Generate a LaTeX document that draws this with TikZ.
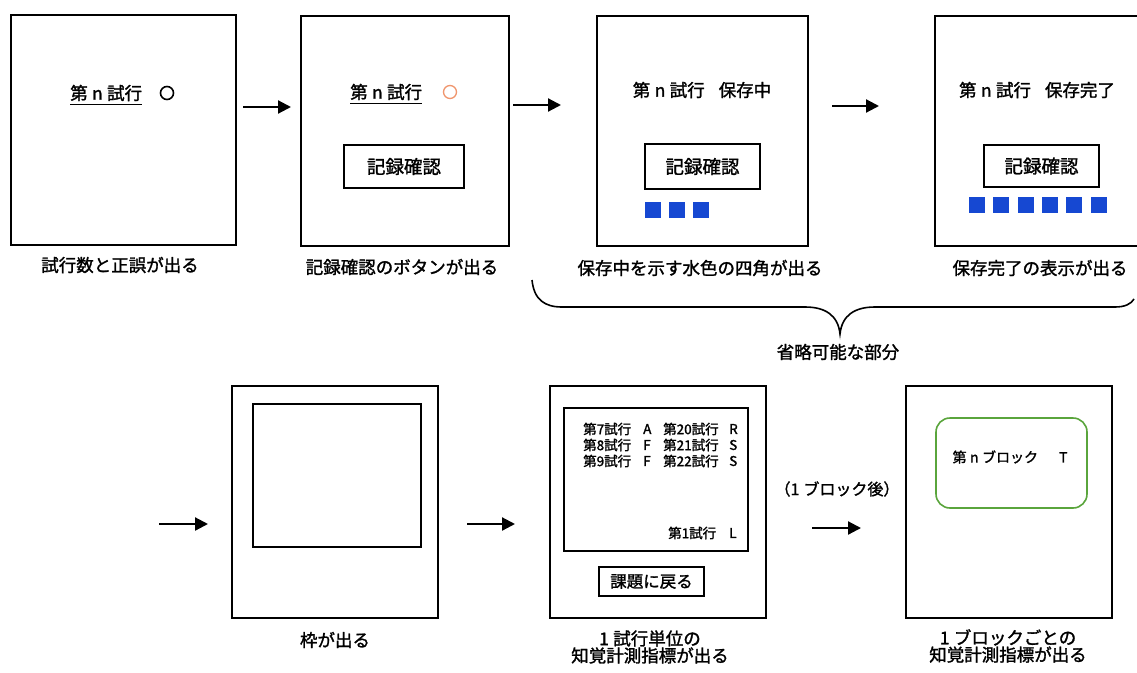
\documentclass[tikz,border=0pt]{standalone}
\usepackage{fontspec}
\setmainfont{Noto Sans CJK JP}[FakeBold=1.5]
\usetikzlibrary{arrows.meta}
\definecolor{sqblue}{RGB}{22,72,210}
\definecolor{circorange}{RGB}{240,150,110}
\definecolor{framegreen}{RGB}{90,165,60}
\tikzset{
  screen/.style={draw=black, line width=1.6pt, inner sep=0pt, fill=white},
  btn/.style={draw=black, line width=1.5pt, inner sep=0pt},
  arr/.style={line width=2.2pt, -{Triangle[length=13pt,width=13pt]}},
  captxt/.style={inner sep=0pt, font=\fontsize{17.5}{17}\selectfont},
  scrtxt/.style={inner sep=0pt, font=\fontsize{17.5}{20}\selectfont},
  smalltxt/.style={inner sep=0pt, font=\fontsize{13.5}{14}\selectfont, anchor=west},
  sq/.style={fill=sqblue, draw=none, minimum size=16pt, inner sep=0pt},
}
\newcommand{\gp}{\hspace{0.25em}}
\begin{document}
\begin{tikzpicture}[x=1pt, y=-1pt]
\useasboundingbox (0,0) rectangle (1137,672);
\fill[white] (0,0) rectangle (1137,672);

% ---------- Row 1 ----------
% screen 1
\node[screen, minimum width=225pt, minimum height=230pt] (s1) at (123.5,130) {};
\node[scrtxt, anchor=west] (t1) at (70,93) {第\gp n\gp 試行};
\draw[line width=1pt] ([yshift=-3pt]t1.south west) -- ([yshift=-3pt]t1.south east);
\node[circle, draw=black, line width=1.6pt, minimum size=13pt, inner sep=0pt] (c1) at (167,93) {};
\node[captxt] (cap1) at (120,265) {試行数と正誤が出る};

% screen 2
\node[screen, minimum width=208pt, minimum height=230pt] (s2) at (405,131) {};
\node[scrtxt, anchor=west] (t2) at (350,92) {第\gp n\gp 試行};
\draw[line width=1pt] ([yshift=-3pt]t2.south west) -- ([yshift=-3pt]t2.south east);
\node[circle, draw=circorange, line width=1.3pt, minimum size=13pt, inner sep=0pt] (c2) at (450,92) {};
\node[btn, minimum width=120pt, minimum height=43pt] (b2) at (404,166.5) {};
\node[scrtxt, font=\fontsize{18.5}{20}\selectfont] (b2t) at (b2) {記録確認};
\node[captxt] (cap2) at (402,267) {記録確認のボタンが出る};

% screen 3
\node[screen, minimum width=211pt, minimum height=230pt] (s3) at (702.5,131) {};
\node[scrtxt] (t3) at (702,90) {第\gp n\gp 試行\hspace{0.8em}保存中};
\node[btn, minimum width=115pt, minimum height=45pt] (b3) at (702.5,166.5) {};
\node[scrtxt, font=\fontsize{18.5}{20}\selectfont] (b3t) at (b3) {記録確認};
\node[sq] (q31) at (652.5,210) {};
\node[sq] (q32) at (676.5,210) {};
\node[sq] (q33) at (700.5,210) {};
\node[captxt] (cap3) at (700,268) {保存中を示す水色の四角が出る};

% screen 4 (cut off at right edge)
\coordinate (s4tl) at (935,16);
\coordinate (s4bl) at (935,246);
\draw[line width=1.6pt] (1140,16) -- (s4tl) -- (s4bl) -- (1140,246);
\node[scrtxt] (t4) at (1037,90) {第\gp n\gp 試行\hspace{0.8em}保存完了};
\node[btn, minimum width=115pt, minimum height=42pt] (b4) at (1041.5,166) {};
\node[scrtxt, font=\fontsize{18.5}{20}\selectfont] (b4t) at (b4) {記録確認};
\foreach \i in {0,...,5} {
  \node[sq] (q4\i) at ({977+24.3*\i},205) {};
}
\node[captxt] (cap4) at (1040,268) {保存完了の表示が出る};

% arrows row 1
\coordinate (a1s) at (243,107); \coordinate (a1e) at (291,107);
\coordinate (a2s) at (513,105); \coordinate (a2e) at (561,105);
\coordinate (a3s) at (832,106); \coordinate (a3e) at (879,106);
\draw[arr] (a1s) -- (a1e);
\draw[arr] (a2s) -- (a2e);
\draw[arr] (a3s) -- (a3e);

% brace
\coordinate (brL) at (532,280);
\coordinate (brR) at (1134,299);
\coordinate (brT) at (840,334);
\draw[line width=1.6pt]
  (brL) .. controls (534,300) and (545,307) .. (562,307)
  -- (805,307) .. controls (825,307) and (838,315) .. (brT)
  .. controls (842,315) and (855,307) .. (875,307)
  -- (1115,307) .. controls (1125,307) and (1131,304) .. (brR);
\node[captxt] (omit) at (838,352) {省略可能な部分};

% ---------- Row 2 ----------
% screen 5
\node[screen, minimum width=206pt, minimum height=232pt] (s5) at (335,502) {};
\node[btn, line width=1.6pt, minimum width=168pt, minimum height=143pt] (f5) at (337,475.5) {};
\node[captxt] (cap5) at (335,640) {枠が出る};
\coordinate (a4s) at (159,524); \coordinate (a4e) at (208,524);
\coordinate (a5s) at (467,524); \coordinate (a5e) at (515,524);
\draw[arr] (a4s) -- (a4e);
\draw[arr] (a5s) -- (a5e);

% screen 6
\node[screen, minimum width=216pt, minimum height=232pt] (s6) at (658,502) {};
\node[btn, line width=1.6pt, minimum width=184pt, minimum height=143pt] (f6) at (656,479.5) {};
\node[smalltxt] (r1a) at (583,429) {第7試行}; \node[smalltxt] (r1b) at (643,429) {A};
\node[smalltxt] (r1c) at (663,429) {第20試行}; \node[smalltxt] (r1d) at (729,429) {R};
\node[smalltxt] (r2a) at (583,445) {第8試行}; \node[smalltxt] (r2b) at (643,445) {F};
\node[smalltxt] (r2c) at (663,445) {第21試行}; \node[smalltxt] (r2d) at (729,445) {S};
\node[smalltxt] (r3a) at (583,461) {第9試行}; \node[smalltxt] (r3b) at (643,461) {F};
\node[smalltxt] (r3c) at (663,461) {第22試行}; \node[smalltxt] (r3d) at (729,461) {S};
\node[smalltxt] (r4a) at (668,533) {第1試行}; \node[smalltxt] (r4b) at (729,533) {L};
\node[btn, minimum width=105pt, minimum height=29pt] (b6) at (651.5,581.5) {};
\node[inner sep=0pt, font=\fontsize{16.5}{18}\selectfont] (b6t) at (b6) {課題に戻る};
\node[captxt, align=center] (cap6) at (650,647) {1\gp 試行単位の\\知覚計測指標が出る};

% arrow with label
\node[inner sep=0pt, font=\fontsize{16}{18}\selectfont] (after) at (837,489) {（1\gp ブロック後）};
\coordinate (a6s) at (812,528); \coordinate (a6e) at (861,528);
\draw[arr] (a6s) -- (a6e);

% screen 7
\node[screen, minimum width=206pt, minimum height=232pt] (s7) at (1009,502) {};
\node[draw=framegreen, line width=1.6pt, rounded corners=14pt, minimum width=151pt, minimum height=90pt, inner sep=0pt] (g7) at (1011.5,463) {};
\node[inner sep=0pt, font=\fontsize{14}{16}\selectfont] (g7t) at (1010,457) {第\gp n\gp ブロック\hspace{1.5em}T};
\node[captxt, align=center] (cap7) at (1008,646) {1\gp ブロックごとの\\知覚計測指標が出る};
\end{tikzpicture}
\end{document}
